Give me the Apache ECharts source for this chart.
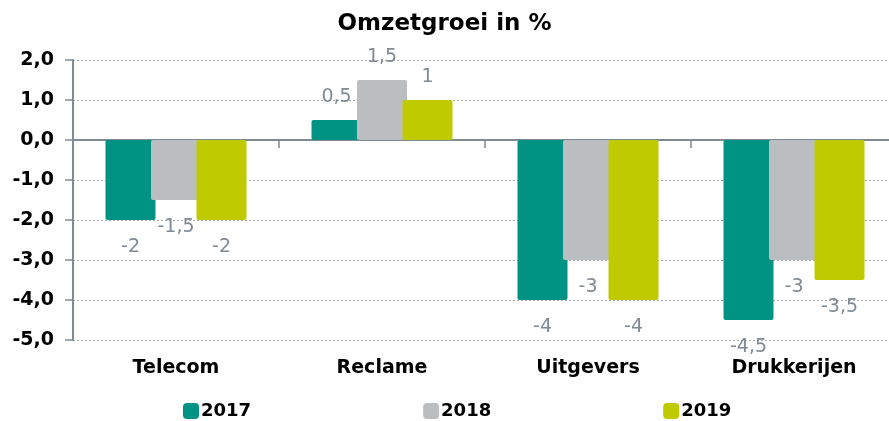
<!DOCTYPE html>
<html>
<head>
<meta charset="utf-8">
<script src="https://cdn.jsdelivr.net/npm/echarts@6/dist/echarts.min.js"></script>
<style>
  html, body { margin: 0; padding: 0; background: #fff; }
  #chart { width: 889px; height: 421px; }
</style>
</head>
<body>
<div id="chart"></div>
<script>
// data
var categories = ["Telecom", "Reclame", "Uitgevers", "Drukkerijen"];
var years = ["2017", "2018", "2019"];
var values2017 = [-2, 0.5, -4, -4.5];
var values2018 = [-1.5, 1.5, -3, -3];
var values2019 = [-2, 1, -4, -3.5];
var colors = ["#009384", "#BBBEC1", "#BFCA00"];

var font = "DejaVu Sans, sans-serif";

function comma(v) {
  return String(v).replace(".", ",");
}

// label above for positive bars, below for negative ones
function toItems(arr) {
  return arr.map(function (v) {
    return {
      value: v,
      label: v < 0 ? { position: "bottom", distance: 18 } : { position: "top", distance: 13 }
    };
  });
}

function makeSeries(name, arr, color) {
  return {
    name: name,
    type: "bar",
    xAxisIndex: 0,
    barWidth: 50,
    barGap: "-9%",
    itemStyle: { color: color, borderRadius: 2 },
    label: {
      show: true,
      color: "#7F8A94",
      fontSize: 19,
      fontFamily: font,
      formatter: function (p) { return comma(p.value); }
    },
    data: toItems(arr)
  };
}

var myChart = echarts.init(document.getElementById("chart"));
myChart.setOption({
  animation: false,
  title: {
    text: "Omzetgroei in %",
    left: "center",
    top: 8,
    textStyle: { fontSize: 23, fontWeight: "bold", color: "#000", fontFamily: font }
  },
  legend: {
    left: 178,
    top: 397,
    itemWidth: 16,
    itemHeight: 16,
    itemGap: 172,
    icon: "roundRect",
    textStyle: { fontSize: 18, fontWeight: "bold", color: "#000", fontFamily: font, padding: [0, 0, 0, -3] },
    data: years
  },
  grid: { left: 73, width: 824, top: 60, bottom: 81, outerBoundsMode: "none" },
  xAxis: [
    {
      type: "category",
      data: categories,
      position: "bottom",
      axisLine: { show: false, onZero: false },
      axisTick: { show: false },
      axisLabel: { margin: 19, fontSize: 19, fontWeight: "bold", color: "#000", fontFamily: font }
    },
    {
      type: "category",
      data: categories,
      position: "bottom",
      axisLine: { show: true, onZero: true, lineStyle: { color: "#7F8A94", width: 2 } },
      axisTick: { show: true, length: 8, lineStyle: { color: "#7F8A94", width: 1.5 } },
      axisLabel: { show: false }
    }
  ],
  yAxis: {
    type: "value",
    min: -5,
    max: 2,
    interval: 1,
    axisLine: { show: true, lineStyle: { color: "#7F8A94", width: 2 } },
    axisTick: { show: true, length: 8, lineStyle: { color: "#7F8A94", width: 1.5 } },
    splitLine: { lineStyle: { color: "#A6A6A6", type: [2, 2], width: 1 } },
    axisLabel: {
      margin: 19,
      fontSize: 19,
      fontWeight: "bold",
      color: "#000",
      fontFamily: font,
      formatter: function (v) { return v.toFixed(1).replace(".", ","); }
    }
  },
  series: [
    makeSeries(years[0], values2017, colors[0]),
    makeSeries(years[1], values2018, colors[1]),
    makeSeries(years[2], values2019, colors[2])
  ]
});
</script>
</body>
</html>
